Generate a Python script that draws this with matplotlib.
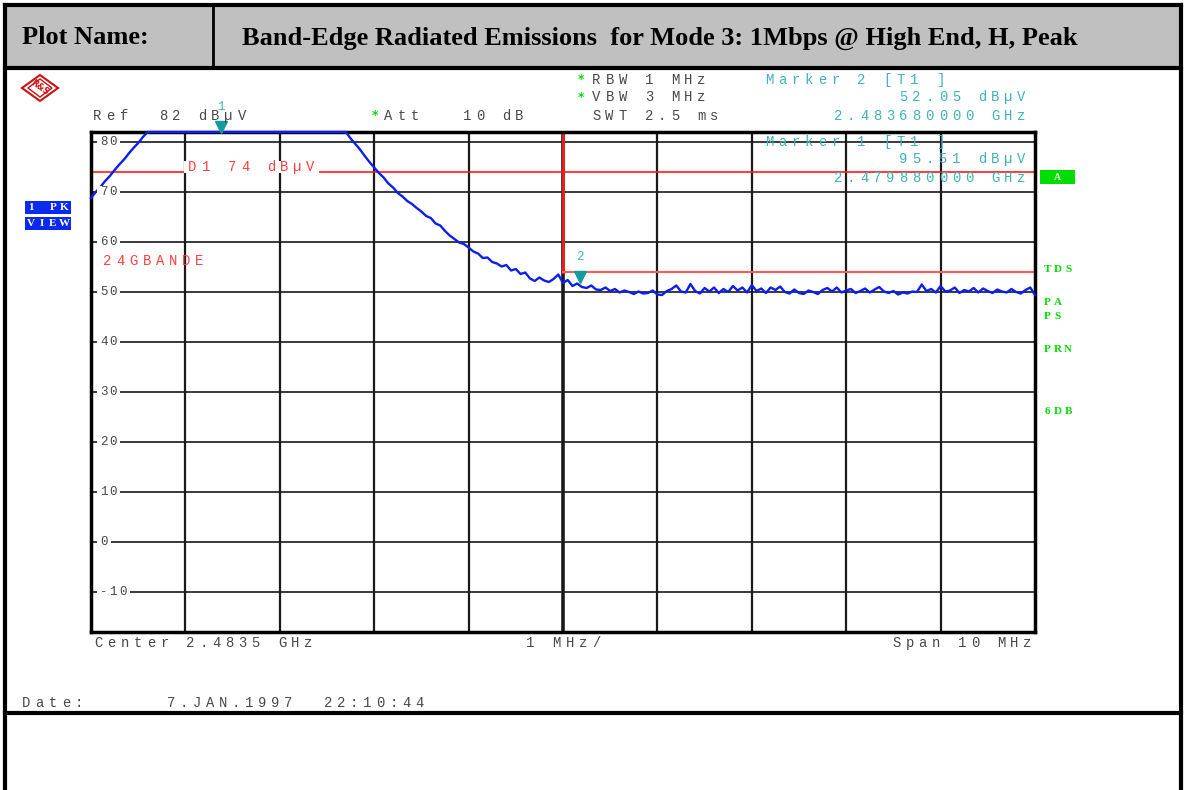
import matplotlib
matplotlib.use("Agg")
import matplotlib.pyplot as plt
import numpy as np
from matplotlib.lines import Line2D
from matplotlib.patches import Rectangle, Polygon

W, H = 1184, 790

# analyser settings
center_ghz = 2.4835
span_mhz = 10
ref_level = 82
bottom_level = -18
d1_level = 74
limit_level = 54          # 24GBANDE limit, from band edge upward
band_edge_ghz = 2.4835

y_ticks = [80, 70, 60, 50, 40, 30, 20, 10, 0, -10]
x_divisions = [0, 1, 2, 3, 4, 5, 6, 7, 8, 9, 10]

marker_freq_ghz = [2.47988, 2.48368]
marker_level = [95.51, 52.05]

# trace, 201 sweep points, dBuV
trace_dbuv = [
    68.8, 70.0, 71.0, 72.2, 73.2, 74.4, 75.5, 76.5, 77.7, 78.8, 79.8, 81.0, 82.0,
    82.0, 82.0, 82.0, 82.0, 82.0, 82.0, 82.0, 82.0, 82.0, 82.0, 82.0, 82.0, 82.0, 82.0,
    82.0, 82.0, 82.0, 82.0, 82.0, 82.0, 82.0, 82.0, 82.0, 82.0, 82.0, 82.0, 82.0, 82.0,
    82.0, 82.0, 82.0, 82.0, 82.0, 82.0, 82.0, 82.0, 82.0, 82.0, 82.0, 82.0, 82.0, 82.0,
    80.7, 79.6, 78.5, 77.2, 76.0,
    74.9, 73.8, 72.9, 71.7, 70.9, 69.8, 69.1, 68.2, 67.6, 66.8,
    66.1, 65.2, 64.8, 63.7, 63.3, 62.2, 61.3, 60.6, 59.9, 59.6,
    58.9, 58.1, 57.7, 56.8, 56.9, 56.0, 55.7, 55.1, 55.4, 54.3,
    54.6, 53.6, 53.9, 52.7, 52.2, 52.9, 52.3, 52.0, 52.6, 53.5,
    51.8, 52.4, 51.2, 51.7, 51.0, 50.8, 51.3, 50.5,
    50.4, 50.9, 50.2, 50.6, 49.9, 50.3, 50.0, 49.6, 50.1, 49.7,
    49.8, 50.3, 49.5, 49.4, 50.2, 50.6, 51.3, 50.1, 49.9, 51.6,
    50.2, 49.7, 50.8, 50.1, 50.9, 49.8, 50.6, 50.0, 51.2, 50.3,
    50.9, 49.9, 51.4, 50.2, 50.7, 49.8, 50.9, 50.4, 51.1, 50.0,
    49.7, 50.5, 49.8, 49.6, 50.3, 50.0, 49.6, 50.4, 50.8, 50.1,
    50.9, 49.9, 50.3, 50.6, 49.8, 50.2, 50.7, 49.9, 50.5, 51.0,
    50.1, 49.8, 50.2, 49.5, 49.9, 49.7, 50.1, 50.0, 51.5, 50.2,
    50.6, 49.9, 51.2, 50.1, 50.3, 50.9, 49.8, 50.4, 50.1, 50.8,
    49.9, 50.7, 50.2, 49.8, 50.5, 50.1, 49.9, 50.6, 50.0, 49.7,
    50.4, 50.9, 49.4,
]

start_ghz = center_ghz - span_mhz / 2000
freq_mhz = np.linspace(0, span_mhz, len(trace_dbuv))

BLUE = "#0b1fee"
RED = "#ff1a1a"
LRED = "#ff5a5a"
TEAL = "#3fb4b4"
GRAY = "#484848"
GREEN = "#00dd00"

fig = plt.figure(figsize=(W / 100, H / 100), dpi=100)


def fx(x):
    return x / W


def fy(y):
    return 1 - y / H


def fig_line(x0, y0, x1, y1, lw=2.5, color="black", z=5):
    fig.add_artist(Line2D([fx(x0), fx(x1)], [fy(y0), fy(y1)], lw=lw, color=color, zorder=z))


def mono(x, y, s, color=GRAY, pitch=13.1, size=10, right=False, bg=False, weight="normal",
         family="Liberation Mono"):
    # spectrum analyser style text: wide fixed pitch
    if right:
        x = x - pitch * len(s)
    if bg:
        fig.add_artist(Rectangle((fx(x - 2), fy(y + 6)), (pitch * len(s) + 4) / W, 12 / H,
                                 facecolor="white", edgecolor="none", zorder=4))
    for i, ch in enumerate(s):
        if ch == " ":
            continue
        fig.text(fx(x + (i + 0.5) * pitch), fy(y), ch, color=color, fontsize=size,
                 family=family, ha="center", va="center", weight=weight, zorder=6)


def star(x, y):
    fig.text(fx(x), fy(y), "*", color=GREEN, fontsize=9, weight="bold",
             family="DejaVu Sans", ha="center", va="center")


# outer table
fig.add_artist(Rectangle((fx(5), fy(68)), fx(1176), 63 / H, facecolor="#c0c0c0",
                         edgecolor="none", zorder=1))
fig_line(5, 5, 1181, 5, lw=3)
fig_line(5, 68, 1181, 68, lw=3)
fig_line(5, 5, 5, 790, lw=3)
fig_line(1181, 5, 1181, 790, lw=3)
fig_line(213, 5, 213, 68, lw=2)
fig_line(5, 713, 1181, 713, lw=3)

fig.text(fx(22), fy(38), "Plot Name:", family="Liberation Serif", weight="bold",
         fontsize=19, ha="left", va="center")
fig.text(fx(242), fy(38), "Band-Edge Radiated Emissions  for Mode 3: 1Mbps @ High End, H, Peak",
         family="Liberation Serif", weight="bold", fontsize=19, ha="left", va="center")

# R&S logo
cx, cy = 40, 88
fig.add_artist(Polygon([(fx(cx - 18), fy(cy)), (fx(cx), fy(cy - 13)), (fx(cx + 18), fy(cy)),
                        (fx(cx), fy(cy + 13))], closed=True, fill=False, edgecolor="#cc1111", lw=1.5))
fig.add_artist(Polygon([(fx(cx - 12), fy(cy)), (fx(cx), fy(cy - 9)), (fx(cx + 12), fy(cy)),
                        (fx(cx), fy(cy + 9))], closed=True, fill=False, edgecolor="#cc1111", lw=1))
fig.text(fx(cx), fy(cy), "R&S", color="#cc1111", fontsize=6, weight="bold",
         ha="center", va="center", rotation=-35)

# main diagram
ax = fig.add_axes([fx(91), fy(632), (1035 - 91) / W, 500 / H])
ax.set_xlim(0, span_mhz)
ax.set_ylim(bottom_level, ref_level)
ax.set_xticks([])
ax.set_yticks([])
for sp in ax.spines.values():
    sp.set_linewidth(2.5)
    sp.set_color("black")
    sp.set_zorder(4)

for v in y_ticks:
    ax.axhline(v, color="#2a2a2a", lw=1.3, zorder=1)
for d in x_divisions[1:-1]:
    ax.axvline(d, color="#1a1a1a", lw=2.6 if d == 5 else 1.6, zorder=1)

ax.axhline(d1_level, color=RED, lw=1.2, zorder=2)
edge = (band_edge_ghz - start_ghz) * 1000
ax.plot([edge, edge], [ref_level, limit_level], color=RED, lw=2, zorder=2, clip_on=False)
ax.plot([edge, span_mhz], [limit_level, limit_level], color=LRED, lw=1.5, zorder=2)

ax.plot(freq_mhz, trace_dbuv, color=BLUE, lw=1.7, zorder=5, clip_on=False)

for k, (f, lv) in enumerate(zip(marker_freq_ghz, marker_level)):
    mx = (f - start_ghz) * 1000
    shown = min(lv, ref_level)
    ax.plot([mx], [shown + 1.0], marker="v", ms=9, color="#159b9b", zorder=6, clip_on=False)
    ax.text(mx, shown + 3.8, str(k + 1), color=TEAL, fontsize=9, family="Liberation Mono",
            ha="center", va="bottom", zorder=6, clip_on=False)

# y labels drawn on the grid
for v in y_ticks:
    ypx = 132 + (ref_level - v) * 5
    mono(99, ypx, str(v), pitch=9.5, size=9, bg=True)

mono(186, 167, "D1 74 dBµV", color="#ff4040", bg=True)
mono(101, 261, "24GBANDE", color="#ff4040")

# header texts
mono(91, 116, "Ref  82 dBµV")
star(375, 116)
mono(382, 116, "Att   10 dB")
star(581, 80)
mono(590, 80, "RBW 1 MHz")
star(581, 97)
mono(590, 97, "VBW 3 MHz")
mono(590, 116, "SWT 2.5 ms")

mono(763, 80, "Marker 2 [T1 ]", color=TEAL)
mono(1028, 97, "52.05 dBµV", color=TEAL, right=True)
mono(1028, 116, "2.483680000 GHz", color=TEAL, right=True)
mono(763, 142, "Marker 1 [T1 ]", color=TEAL)
mono(1028, 159, "95.51 dBµV", color=TEAL, right=True)
mono(1028, 178, "2.479880000 GHz", color=TEAL, right=True)

# side annotations
fig.add_artist(Rectangle((fx(1040), fy(184)), 35 / W, 14 / H, facecolor=GREEN, edgecolor="none"))
fig.text(fx(1057), fy(177), "A", color="white", fontsize=7, weight="bold",
         family="Liberation Serif", ha="center", va="center")
for lbl, ypx in [("TDS", 270), ("PA", 302), ("PS", 317), ("PRN", 350), ("6DB", 412)]:
    mono(1042, ypx, lbl, color=GREEN, pitch=10.5, size=8, weight="bold",
         family="Liberation Serif")

for lbl, ypx in [("1 PK", 208), ("VIEW", 224)]:
    fig.add_artist(Rectangle((fx(25), fy(ypx + 6)), 46 / W, 13 / H, facecolor="#0a2af0",
                             edgecolor="none"))
    mono(25, ypx, lbl, color="white", pitch=11.2, size=8, weight="bold",
         family="Liberation Serif")

# footer
mono(92, 643, "Center 2.4835 GHz")
mono(524, 643, "1 MHz/")
mono(1034, 643, "Span 10 MHz", right=True)
mono(20, 703, "Date:      7.JAN.1997  22:10:44")

fig.savefig("out.png", dpi=100)
